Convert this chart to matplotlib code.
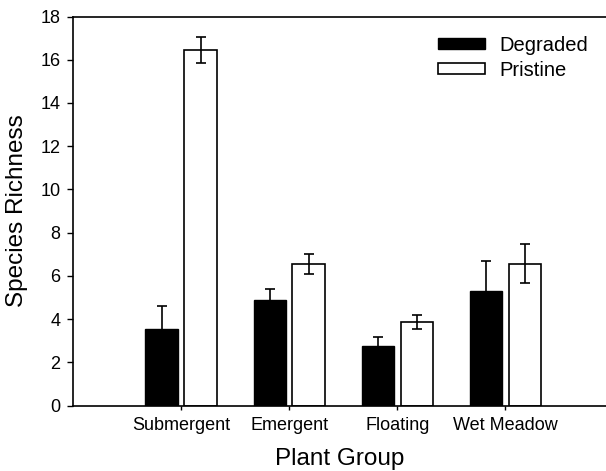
import numpy as np
import matplotlib
matplotlib.use("Agg")
import matplotlib.pyplot as plt

# Data
groups = ["Submergent", "Emergent", "Floating", "Wet Meadow"]
degraded = [3.55, 4.89, 2.75, 5.32]
degraded_err = [1.07, 0.53, 0.42, 1.39]
pristine = [16.43, 6.55, 3.87, 6.56]
pristine_err = [0.6, 0.45, 0.34, 0.9]

plt.rcParams["font.family"] = ["Liberation Sans", "DejaVu Sans"]

fig = plt.figure(figsize=(6.06, 4.71), dpi=100)
ax = fig.add_axes([73 / 606, 65.3 / 471, 533 / 606, 389.2 / 471])

x = np.arange(len(groups))
width = 0.3
off = 0.18

ax.bar(x - off, degraded, width, color="black", edgecolor="black",
       linewidth=1.0, label="Degraded", zorder=2)
ax.bar(x + off, pristine, width, color="white", edgecolor="black",
       linewidth=1.2, label="Pristine", zorder=2)
# lower half of the degraded bars' error bars falls inside the black bar
ax.errorbar(x - off, degraded, yerr=degraded_err, fmt="none", ecolor="black",
            elinewidth=1.2, capsize=3.8, capthick=1.2, zorder=1.5)
ax.errorbar(x + off, pristine, yerr=pristine_err, fmt="none", ecolor="black",
            elinewidth=1.2, capsize=3.8, capthick=1.2, zorder=3)

ax.set_xlim(-1.0, 3.93)
ax.set_ylim(0, 18)
ax.set_yticks(range(0, 19, 2))
ax.set_xticks(x)
ax.set_xticklabels(groups, fontsize=13)
ax.tick_params(axis="y", labelsize=13, direction="out", length=4, width=1, pad=5)
ax.tick_params(axis="x", direction="out", length=3, width=1, pad=5)

ax.spines["right"].set_visible(False)
for s in ["left", "top", "bottom"]:
    ax.spines[s].set_linewidth(1.2)

ax.set_xlabel("Plant Group", fontsize=17.5, labelpad=10)
ax.set_ylabel("Species Richness", fontsize=17.5, labelpad=9)

ax.legend(loc="upper left", bbox_to_anchor=(0.685, 0.95), frameon=False,
          fontsize=14.5, handlelength=2.35, handleheight=0.45,
          labelspacing=0.3, handletextpad=0.7, borderpad=0, borderaxespad=0)

fig.savefig("out.png", dpi=100)
